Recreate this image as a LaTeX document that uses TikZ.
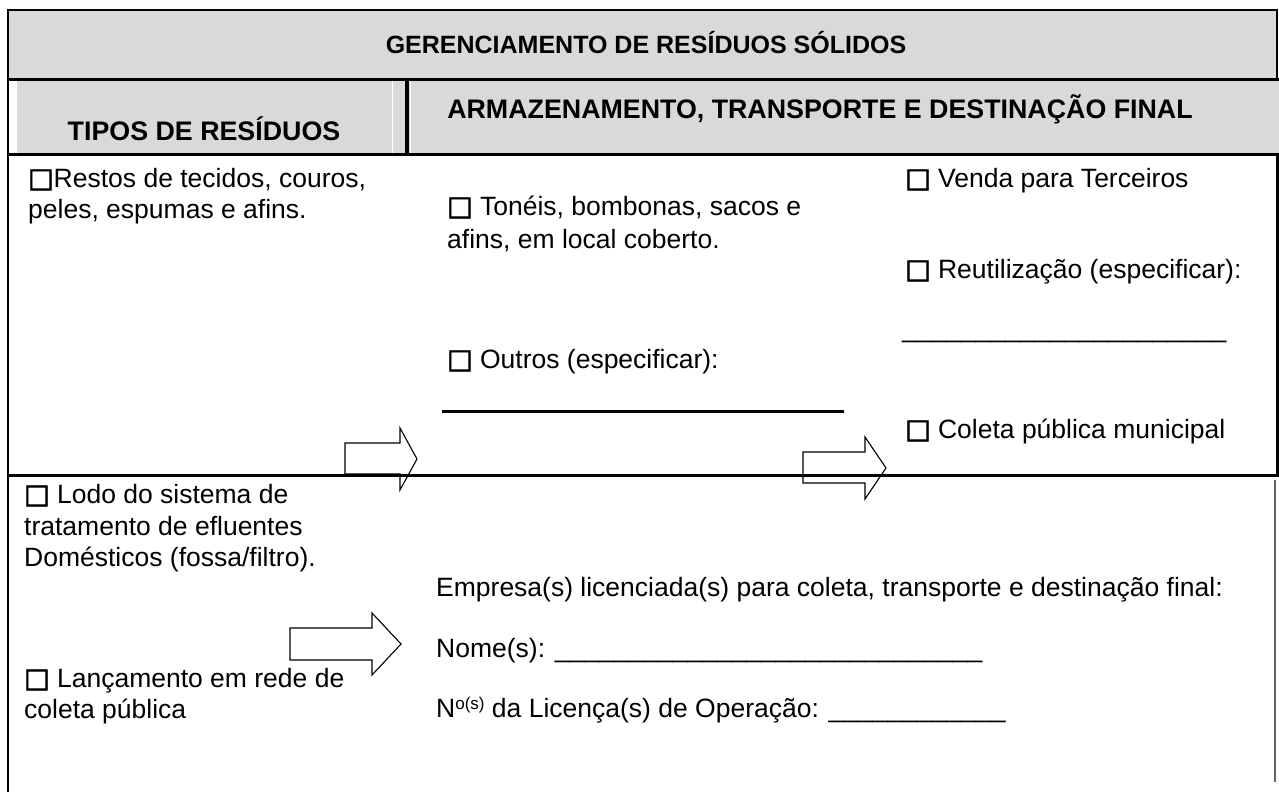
\documentclass[tikz,border=0pt]{standalone}
\usepackage{fontspec}
\setmainfont{Liberation Sans}
\newfontfamily\symfam[FakeBold=2.5]{DejaVu Sans}
\newcommand\bodyf{\fontsize{26.5}{30}\selectfont}
\newcommand\headf{\fontsize{26.8}{30}\selectfont\bfseries}
\newcommand\cbx{{\symfam\bfseries\fontsize{27}{27}\selectfont □}}
\definecolor{hdrgray}{HTML}{D9D9D9}
\tikzset{
  txt/.style={anchor=base west, inner sep=0pt, font=\bodyf},
  hdtxt/.style={anchor=base, inner sep=0pt, font=\headf},
  thickrule/.style={line width=3pt},
  thinrule/.style={line width=1.2pt},
  blockarrow/.style={draw=black, fill=white, line width=1.1pt, line join=miter}
}
\begin{document}
\begin{tikzpicture}[x=1pt,y=-1pt]
\useasboundingbox (0,0) rectangle (1279,792);
\fill[white] (0,0) rectangle (1279,792);
% grey header fills
\fill[hdrgray] (8,10) rectangle (1277,79);
\fill[hdrgray] (17,79) rectangle (1279,154);
\fill[white] (392,81) rectangle (393,153);
\fill[white] (410,81) rectangle (411,153);
% thin outer borders
\draw[thinrule] (8,792) -- (8,10) -- (1277,10) -- (1277,79);
\draw[thinrule, black!60] (1275,480) -- (1275,782);
% block arrows
\draw[blockarrow] (345,443) -- (400,443) -- (400,428) -- (417,459) -- (400,490) -- (400,474) -- (345,474) -- cycle;
\draw[blockarrow] (803,452) -- (865,452) -- (865,437) -- (886,468) -- (865,499) -- (865,483) -- (803,483) -- cycle;
\draw[blockarrow] (290,628) -- (372,628) -- (372,613) -- (401,644) -- (372,675) -- (372,660) -- (290,660) -- cycle;
% thick rules
\draw[thickrule] (8,79) -- (1279,79);
\draw[thickrule] (8,154) -- (1279,154);
\draw[thickrule] (8,475) -- (1279,475);
\draw[line width=3.3pt] (407,79) -- (407,154);
\draw[thickrule] (1277.5,154) -- (1277.5,475);
\draw[thickrule] (442,411) -- (844,411);
% headers
\node[hdtxt, font=\fontsize{25}{30}\selectfont\bfseries] (title) at (646,54) {GERENCIAMENTO DE RESÍDUOS SÓLIDOS};
\node[hdtxt] (tipos) at (204,140) {TIPOS DE RESÍDUOS};
\node[hdtxt] (armaz) at (820,118) {ARMAZENAMENTO, TRANSPORTE E DESTINAÇÃO FINAL};
% column 1, upper
\node[txt] (r1a) at (28,187) {\cbx Restos de tecidos, couros,};
\node[txt] (r1b) at (28,218) {peles, espumas e afins.};
% column 2, upper
\node[txt] (t1a) at (447,215) {\cbx\ Tonéis, bombonas, sacos e};
\node[txt] (t1b) at (447,248) {afins, em local coberto.};
\node[txt] (out) at (447,368) {\cbx\ Outros (especificar):};
% column 3, upper
\node[txt] (venda) at (905,187) {\cbx\ Venda para Terceiros};
\node[txt] (reut) at (905,278) {\cbx\ Reutilização (especificar):};
\node[txt] (reutl) at (902,337) {\_\_\_\_\_\_\_\_\_\_\_\_\_\_\_\_\_\_\_\_\_\_};
\node[txt] (colm) at (905,438) {\cbx\ Coleta pública municipal};
% lower row
\node[txt] (lodo1) at (24,503) {\cbx\ Lodo do sistema de};
\node[txt] (lodo2) at (24,535) {tratamento de efluentes};
\node[txt] (lodo3) at (24,566) {Domésticos (fossa/filtro).};
\node[txt] (lanc1) at (24,687) {\cbx\ Lançamento em rede de};
\node[txt] (lanc2) at (24,718) {coleta pública};
\node[txt] (emp) at (436,596) {Empresa(s) licenciada(s) para coleta, transporte e destinação final:};
\node[txt] (nome) at (436,657) {Nome(s): \_\_\_\_\_\_\_\_\_\_\_\_\_\_\_\_\_\_\_\_\_\_\_\_\_\_\_\_\_};
\node[txt] (lic) at (436,717) {N\raisebox{8pt}{\fontsize{17}{17}\selectfont o(s)} da Licença(s) de Operação: \_\_\_\_\_\_\_\_\_\_\_\_};
\end{tikzpicture}
\end{document}
